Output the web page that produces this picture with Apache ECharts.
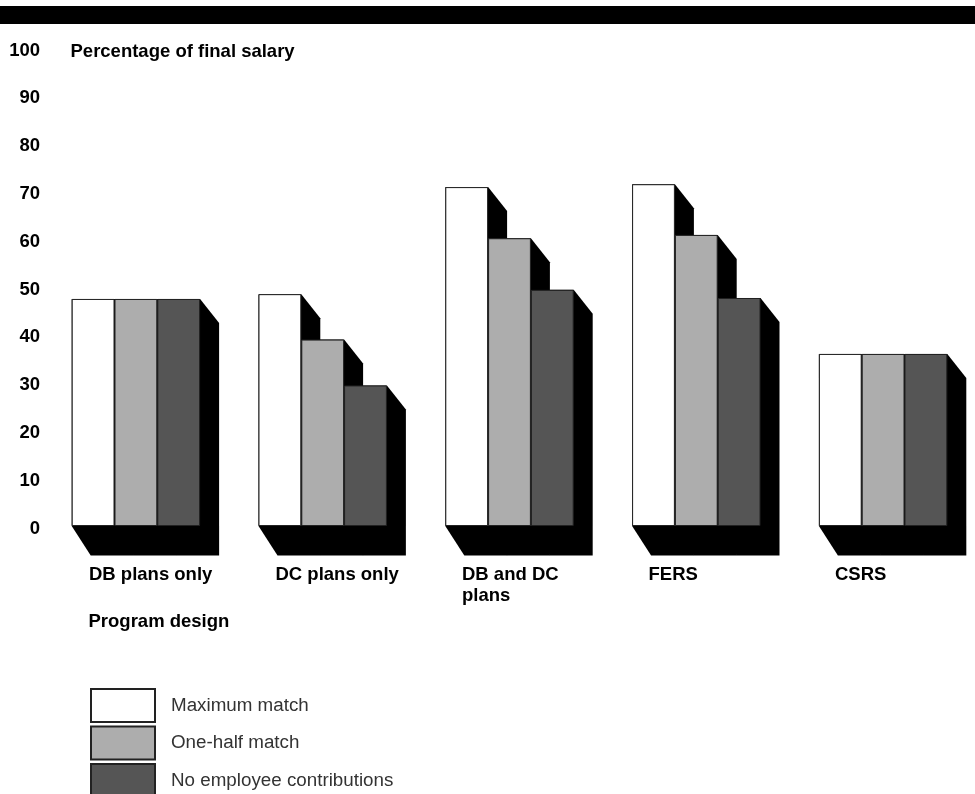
<!DOCTYPE html>
<html><head><meta charset="utf-8">
<style>html,body{margin:0;padding:0;background:#fff;overflow:hidden}#c{width:975px;height:794px}</style>
<script src="https://cdn.jsdelivr.net/npm/echarts@6/dist/echarts.min.js"></script>
</head><body><div id="c"></div>
<script>
const categories = ['DB plans only','DC plans only','DB and DC plans','FERS','CSRS'];
const yTicks = [0,10,20,30,40,50,60,70,80,90,100];
const maximumMatch = [47.5,48.5,70.9,71.5,36.0];
const oneHalfMatch = [47.5,39.0,60.2,60.9,36.0];
const noContributions = [47.5,29.4,49.4,47.7,36.0];
const seriesNames = ['Maximum match','One-half match','No employee contributions'];
const colors = ['#ffffff','#adadad','#555555'];
const yTitle = 'Percentage of final salary';
const xTitle = 'Program design';

const FONT = '"Liberation Sans", Arial, sans-serif';
const BAR = 42.8, DX = 19, DY_TOP = 24, DY_BOT = 29.5, FS = 18.5;
const chart = echarts.init(document.getElementById('c'), null, {renderer:'canvas'});

function shadow(params, api){
  const cat = api.value(0);
  const vals = [api.value(1), api.value(2), api.value(3)];
  const cx = api.coord([cat, 0])[0];
  const base = api.coord([cat, 0])[1];
  const children = vals.map((v, i) => {
    const x0 = cx - 1.5*BAR + i*BAR, x1 = x0 + BAR;
    const top = api.coord([cat, v])[1];
    return {type:'polygon', shape:{points:[
      [x0,top],[x1,top],[x1+DX,top+DY_TOP],[x1+DX,base+DY_BOT],[x0+DX,base+DY_BOT],[x0,base]
    ]}, style:{fill:'#000'}};
  });
  return {type:'group', children};
}
const barSeries = [maximumMatch, oneHalfMatch, noContributions].map((d,i)=>({
  name: seriesNames[i], type:'bar', data:d, barWidth:BAR, barGap:0, z:5,
  xAxisIndex:0, yAxisIndex:0, silent:true,
  itemStyle:{color:colors[i], borderColor:'#222', borderWidth:1}
}));

chart.setOption({
  animation:false,
  backgroundColor:'#fff',
  graphic:[{type:'rect', shape:{x:0,y:6,width:975,height:18}, style:{fill:'#000'}}],
  title:[
    {text:yTitle, left:70.5, top:42, textStyle:{fontFamily:FONT,fontWeight:'bold',fontSize:FS,color:'#000'}, padding:0},
    {text:xTitle, left:88.5, top:612, textStyle:{fontFamily:FONT,fontWeight:'bold',fontSize:FS,color:'#000'}, padding:0}
  ],
  legend:{
    data:seriesNames, orient:'vertical', left:90, top:688, height:130, padding:0,
    itemWidth:64, itemHeight:33, itemGap:2.5, icon:'rect', selectedMode:false,
    textStyle:{fontFamily:FONT,fontSize:18.8,color:'#333',padding:[3,0,0,11]}
  },
  grid:[
    {left:42.5, top:48, width:934, height:478, outerBoundsMode:'none'},
    {left:89, top:48, width:746, height:478, outerBoundsMode:'none'}
  ],
  xAxis:[
    {type:'category', gridIndex:0, data:categories, axisLine:{show:false}, axisTick:{show:false}, axisLabel:{show:false}},
    {type:'category', gridIndex:1, data:categories, boundaryGap:false, axisLine:{show:false}, axisTick:{show:false},
     axisLabel:{interval:0, align:'left', margin:38, width:130, overflow:'break', lineHeight:21,
       fontFamily:FONT, fontWeight:'bold', fontSize:FS, color:'#000',
       showMinLabel:true, showMaxLabel:true}}
  ],
  yAxis:[
    {type:'value', gridIndex:0, min:0, max:100, interval:10, splitLine:{show:false}, axisLine:{show:false}, axisTick:{show:false},
     axisLabel:{margin:2.5, fontFamily:FONT, fontWeight:'bold', fontSize:FS, color:'#000', verticalAlign:'top', lineHeight:5, showMinLabel:true, showMaxLabel:true,
       formatter:v=>yTicks.includes(v)?String(v):''}},
    {type:'value', gridIndex:1, min:0, max:100, show:false}
  ],
  series:[
    {type:'custom', name:'shadow', xAxisIndex:0, yAxisIndex:0, z:1, silent:true, clip:false, renderItem:shadow,
     encode:{x:0,y:1},
     data:categories.map((c,i)=>[i,maximumMatch[i],oneHalfMatch[i],noContributions[i]])},
    ...barSeries
  ]
});
</script></body></html>
